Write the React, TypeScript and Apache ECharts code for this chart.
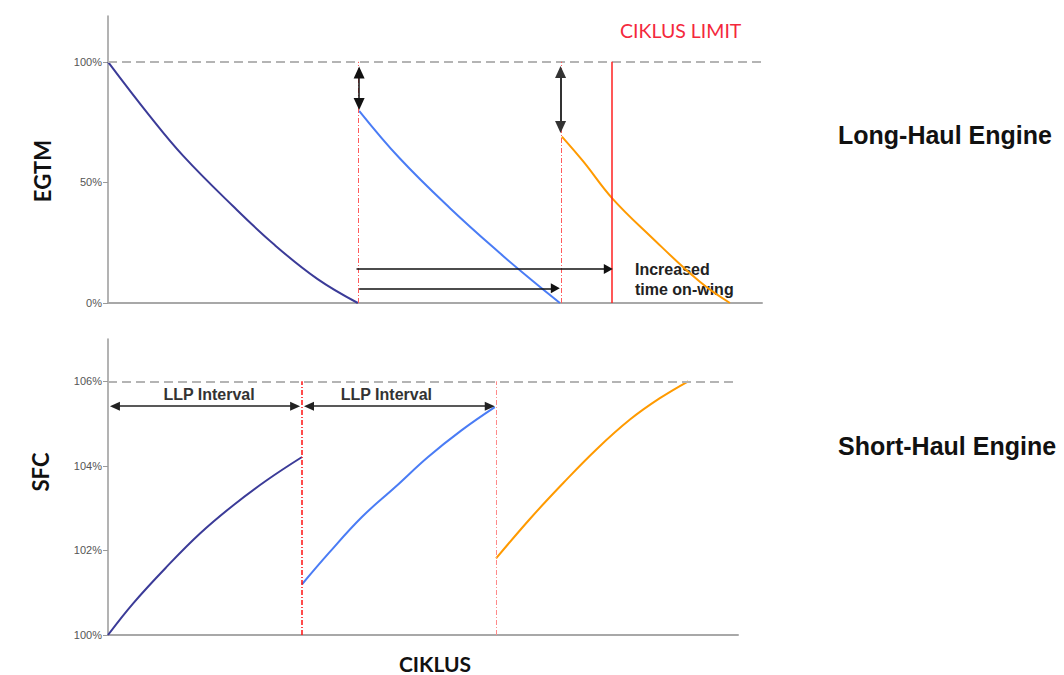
import React, { useEffect, useRef } from 'react';
import * as echarts from 'echarts';

// ---- Top chart (EGTM, long-haul) ----
const egtmTicks = [0, 50, 100];
const egtmRun1X = [0, 6.4, 11.5, 19.1, 25.5, 32.0, 38.2];
const egtmRun1Y = [100, 77.5, 61.0, 40.2, 24, 10, 0];
const egtmRun2X = [38.4, 44.6, 52.3, 59.9, 65.0, 69.1];
const egtmRun2Y = [79.7, 60, 39.3, 20.7, 9.0, 0];
const egtmRun3X = [69.4, 72.7, 77.1, 82.9, 90.5, 95.1];
const egtmRun3Y = [69, 58.6, 43.4, 27.8, 8.8, 0];
const shopVisitsTop = [38.3, 69.3];
const cycleLimit = 77.1;

// ---- Bottom chart (SFC, short-haul) ----
const sfcTicks = [100, 102, 104, 106];
const sfcRun1X = [0, 4.0, 9.3, 14.6, 19.9, 25.2, 30.8];
const sfcRun1Y = [100, 100.75, 101.61, 102.4, 103.07, 103.66, 104.21];
const sfcRun2X = [30.8, 35.0, 40.3, 45.6, 50.8, 56.1, 61.4];
const sfcRun2Y = [101.2, 101.93, 102.79, 103.5, 104.21, 104.84, 105.39];
const sfcRun3X = [61.6, 67.0, 72.3, 77.6, 82.9, 87.6, 92.1];
const sfcRun3Y = [101.81, 102.75, 103.6, 104.4, 105.1, 105.6, 106.0];
const shopVisitsBottom = [30.8, 61.6];
const sfcLimit = 106;
const egtmLimit = 100;

const zip = (xs: number[], ys: number[]) => xs.map((x, i) => [x, ys[i]]);

const NAVY = '#3b3b98';
const BLUE = '#4a7cf5';
const ORANGE = '#ff9a00';
const AX = '#9a9a9a';

export default function App() {
  const ref = useRef<HTMLDivElement>(null);
  useEffect(() => {
    document.body.style.margin = '0';
    const chart = echarts.init(ref.current!, null, { renderer: 'svg' });
    const curve = (name: string, data: number[][], color: string, idx: number) => ({
      name,
      type: 'line',
      xAxisIndex: idx,
      yAxisIndex: idx,
      data,
      smooth: 0.4,
      showSymbol: false,
      silent: true,
      lineStyle: { color, width: 2 },
      itemStyle: { color },
    });
    const dashDot = [5, 2, 1, 2];
    const llpLabel = (offsetX: number) => ({
      show: true,
      position: 'middle',
      formatter: 'LLP Interval',
      fontSize: 16,
      fontWeight: 'bold',
      color: '#333',
      distance: 4,
      offset: [offsetX, 0],
      fontFamily: 'Liberation Sans, Arial',
    });
    const option: any = {
      animation: false,
      backgroundColor: '#ffffff',
      grid: [
        { left: 108, right: 302, top: 16, height: 287 },
        { left: 108, right: 326, top: 339, height: 296 },
      ],
      xAxis: [0, 1].map((i) => ({
        type: 'value',
        gridIndex: i,
        min: 0,
        max: 100,
        axisLine: { show: true, onZero: false, lineStyle: { color: '#a8a8a8', width: 2 } },
        axisTick: { show: false },
        axisLabel: { show: false },
        splitLine: { show: false },
      })),
      yAxis: [
        {
          type: 'value',
          gridIndex: 0,
          min: 0,
          max: 119,
          axisLine: { show: true, lineStyle: { color: AX, width: 1.5 } },
          axisTick: { show: true, length: 5, customValues: egtmTicks, lineStyle: { color: AX } },
          axisLabel: {
            customValues: egtmTicks,
            formatter: (v: number) => v + '%',
            fontSize: 11,
            color: '#555',
            margin: 6,
            fontFamily: 'Liberation Sans, Arial',
          },
          splitLine: { show: false },
        },
        {
          type: 'value',
          gridIndex: 1,
          min: 100,
          max: 107,
          axisLine: { show: true, lineStyle: { color: AX, width: 1.5 } },
          axisTick: { show: true, length: 5, customValues: sfcTicks, lineStyle: { color: AX } },
          axisLabel: {
            customValues: sfcTicks,
            formatter: (v: number) => v + '%',
            fontSize: 11,
            color: '#555',
            margin: 6,
            fontFamily: 'Liberation Sans, Arial',
          },
          splitLine: { show: false },
        },
      ],
      series: [
        curve('EGTM run 1', zip(egtmRun1X, egtmRun1Y), NAVY, 0),
        curve('EGTM run 2', zip(egtmRun2X, egtmRun2Y), BLUE, 0),
        curve('EGTM run 3', zip(egtmRun3X, egtmRun3Y), ORANGE, 0),
        curve('SFC run 1', zip(sfcRun1X, sfcRun1Y), NAVY, 1),
        curve('SFC run 2', zip(sfcRun2X, sfcRun2Y), BLUE, 1),
        curve('SFC run 3', zip(sfcRun3X, sfcRun3Y), ORANGE, 1),
        {
          name: 'top annotations',
          type: 'line',
          xAxisIndex: 0,
          yAxisIndex: 0,
          data: [],
          markLine: {
            silent: true,
            animation: false,
            symbol: ['none', 'none'],
            label: { show: false },
            data: [
              [
                { coord: [0, egtmLimit], lineStyle: { color: '#b4b4b4', width: 2, type: [9, 5] } },
                { coord: [100, egtmLimit] },
              ],
              ...shopVisitsTop.map((x) => [
                { coord: [x, 0], lineStyle: { color: '#ff5a5a', width: 1, type: dashDot } },
                { coord: [x, egtmLimit] },
              ]),
              [
                { coord: [cycleLimit, 0], lineStyle: { color: '#ff2020', width: 1.5, type: 'solid' } },
                { coord: [cycleLimit, egtmLimit] },
              ],
              [
                { coord: [38.4, 95.6], symbol: 'triangle', symbolSize: [11, 12], lineStyle: { color: '#111', width: 1.5, type: 'solid' } },
                { coord: [38.4, 82.5], symbol: 'triangle', symbolSize: [11, 12] },
              ],
              [
                { coord: [69.2, 95.8], symbol: 'triangle', symbolSize: [11, 12], lineStyle: { color: '#333', width: 2, type: 'solid' } },
                { coord: [69.2, 73.0], symbol: 'triangle', symbolSize: [11, 12] },
              ],
              [
                { coord: [38.0, 14.1], symbol: 'none', lineStyle: { color: '#111', width: 1.5, type: 'solid' } },
                { coord: [76.5, 14.1], symbol: 'triangle', symbolSize: [10, 9] },
              ],
              [
                { coord: [38.4, 6.1], symbol: 'none', lineStyle: { color: '#111', width: 1.5, type: 'solid' } },
                { coord: [68.4, 6.1], symbol: 'triangle', symbolSize: [10, 9] },
              ],
            ],
          },
        },
        {
          name: 'bottom annotations',
          type: 'line',
          xAxisIndex: 1,
          yAxisIndex: 1,
          data: [],
          markLine: {
            silent: true,
            animation: false,
            symbol: ['none', 'none'],
            label: { show: false },
            data: [
              [
                { coord: [0, sfcLimit], lineStyle: { color: '#b4b4b4', width: 2, type: [9, 5] } },
                { coord: [100, sfcLimit] },
              ],
              [
                { coord: [shopVisitsBottom[0], 100], lineStyle: { color: '#ff1010', width: 1.5, type: dashDot } },
                { coord: [shopVisitsBottom[0], sfcLimit] },
              ],
              [
                { coord: [shopVisitsBottom[1], 100], lineStyle: { color: '#ff8a8a', width: 1, type: dashDot } },
                { coord: [shopVisitsBottom[1], sfcLimit] },
              ],
              [
                {
                  coord: [1.1, 105.41],
                  symbol: 'triangle',
                  symbolSize: [9, 10],
                  lineStyle: { color: '#222', width: 1.5, type: 'solid' },
                  label: llpLabel(4),
                },
                { coord: [29.7, 105.41], symbol: 'triangle', symbolSize: [9, 10] },
              ],
              [
                {
                  coord: [31.9, 105.41],
                  symbol: 'triangle',
                  symbolSize: [9, 10],
                  lineStyle: { color: '#222', width: 1.5, type: 'solid' },
                  label: llpLabel(-13),
                },
                { coord: [60.6, 105.41], symbol: 'triangle', symbolSize: [9, 10] },
              ],
            ],
          },
        },
      ],
      graphic: [
        {
          type: 'text',
          x: 42,
          y: 171,
          rotation: Math.PI / 2,
          style: { text: 'EGTM', font: 'bold 22px Lato', fill: '#111', textAlign: 'center', textVerticalAlign: 'middle' },
        },
        {
          type: 'text',
          x: 40,
          y: 472,
          rotation: Math.PI / 2,
          style: { text: 'SFC', font: 'bold 22px Lato', fill: '#111', textAlign: 'center', textVerticalAlign: 'middle' },
        },
        {
          type: 'text',
          x: 435,
          y: 663,
          style: { text: 'CIKLUS', font: 'bold 21px Lato', fill: '#111', textAlign: 'center', textVerticalAlign: 'middle' },
        },
        {
          type: 'text',
          x: 620,
          y: 30,
          style: { text: 'CIKLUS LIMIT', font: '19.5px Lato', fill: '#f4283c', textAlign: 'left', textVerticalAlign: 'middle' },
        },
        {
          type: 'text',
          x: 635,
          y: 259,
          style: {
            text: 'Increased\ntime on-wing',
            font: 'bold 16px "Liberation Sans", Arial',
            fill: '#222',
            lineHeight: 20,
            textAlign: 'left',
            textVerticalAlign: 'top',
          },
        },
        {
          type: 'text',
          x: 838,
          y: 135,
          style: { text: 'Long-Haul Engine', font: 'bold 25px "Liberation Sans", Arial', fill: '#111', textAlign: 'left', textVerticalAlign: 'middle' },
        },
        {
          type: 'text',
          x: 838,
          y: 446,
          style: { text: 'Short-Haul Engine', font: 'bold 25px "Liberation Sans", Arial', fill: '#111', textAlign: 'left', textVerticalAlign: 'middle' },
        },
      ],
    };
    chart.setOption(option);
    return () => chart.dispose();
  }, []);
  return <div ref={ref} style={{ width: 1064, height: 675 }} />;
}
